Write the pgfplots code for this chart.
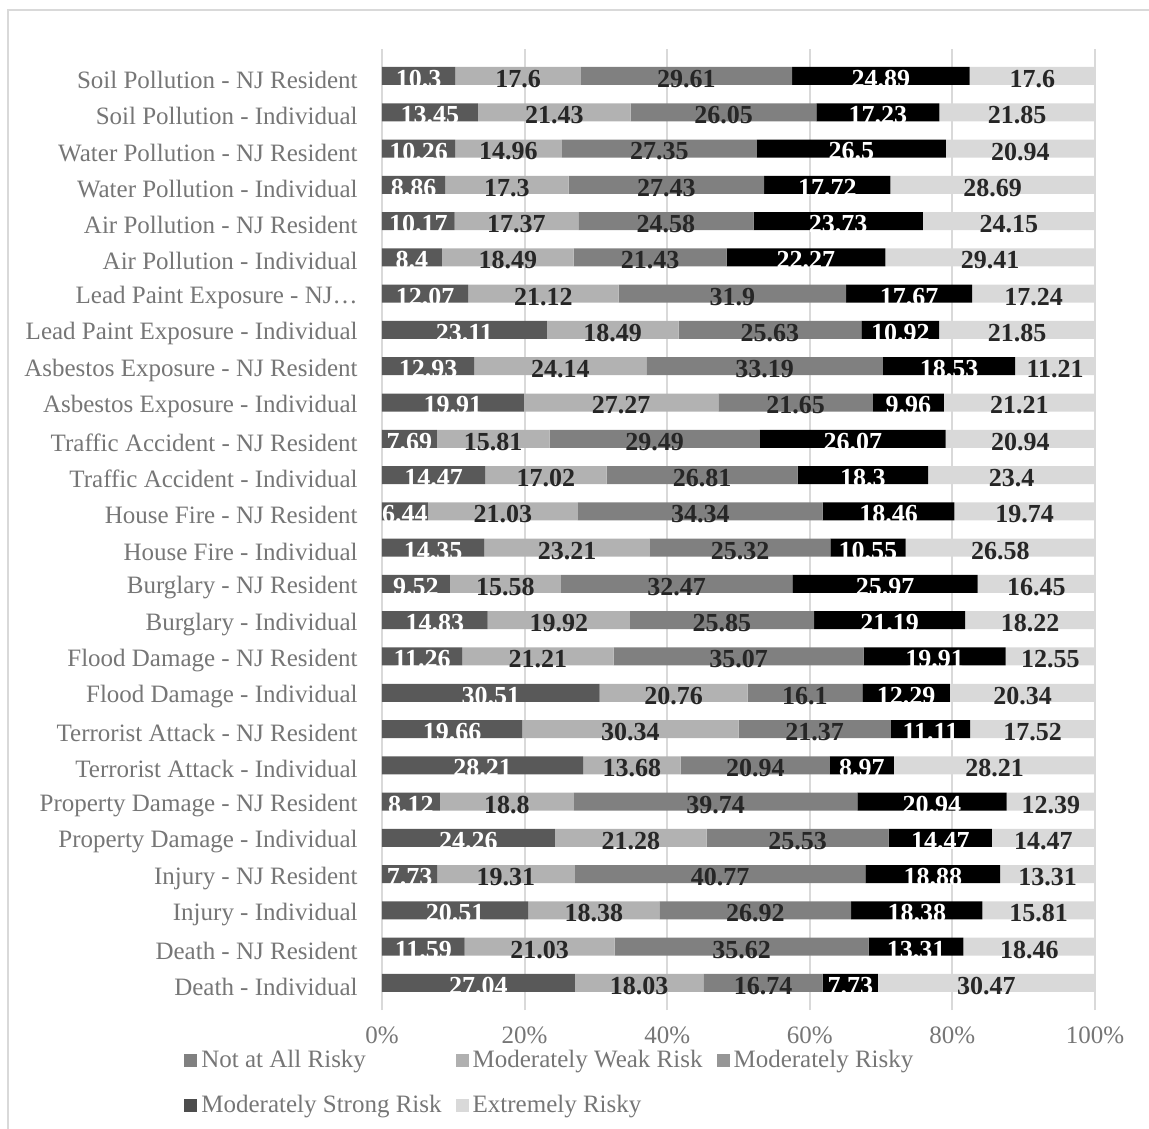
\documentclass[border=0pt]{standalone}
\usepackage{fontspec}
\setmainfont{Liberation Serif}
\usepackage{pgfplots}
\pgfplotsset{compat=1.18}
\usepackage{pgfplotstable}

\definecolor{cA}{HTML}{595959}
\definecolor{cB}{HTML}{B2B2B2}
\definecolor{cC}{HTML}{808080}
\definecolor{cD}{HTML}{000000}
\definecolor{cE}{HTML}{D9D9D9}
\definecolor{lA}{HTML}{808080}
\definecolor{lB}{HTML}{B0B0B0}
\definecolor{lC}{HTML}{969696}
\definecolor{lD}{HTML}{4D4D4D}
\definecolor{lE}{HTML}{D9D9D9}
\definecolor{txtgray}{HTML}{767676}
\definecolor{lbl}{HTML}{262626}
\definecolor{gridc}{HTML}{D9D9D9}

\pgfplotstableread{
y a b c d e
25 10.3 17.6 29.61 24.89 17.6
24 13.45 21.43 26.05 17.23 21.85
23 10.26 14.96 27.35 26.5 20.94
22 8.86 17.3 27.43 17.72 28.69
21 10.17 17.37 24.58 23.73 24.15
20 8.4 18.49 21.43 22.27 29.41
19 12.07 21.12 31.9 17.67 17.24
18 23.11 18.49 25.63 10.92 21.85
17 12.93 24.14 33.19 18.53 11.21
16 19.91 27.27 21.65 9.96 21.21
15 7.69 15.81 29.49 26.07 20.94
14 14.47 17.02 26.81 18.3 23.4
13 6.44 21.03 34.34 18.46 19.74
12 14.35 23.21 25.32 10.55 26.58
11 9.52 15.58 32.47 25.97 16.45
10 14.83 19.92 25.85 21.19 18.22
9 11.26 21.21 35.07 19.91 12.55
8 30.51 20.76 16.1 12.29 20.34
7 19.66 30.34 21.37 11.11 17.52
6 28.21 13.68 20.94 8.97 28.21
5 8.12 18.8 39.74 20.94 12.39
4 24.26 21.28 25.53 14.47 14.47
3 7.73 19.31 40.77 18.88 13.31
2 20.51 18.38 26.92 18.38 15.81
1 11.59 21.03 35.62 13.31 18.46
0 27.04 18.03 16.74 7.73 30.47
}\data

\pgfplotsset{
  geom/.style={scale only axis, width=356.5pt, height=480.7pt,
    at={(0,0)}, anchor=south west,
    xmin=0, xmax=100, ymin=-0.75, ymax=25.75,
    /pgf/number format/assume math mode=true},
  lab/.style={draw=none, mark=none, point meta=explicit,
    nodes near coords={\fontsize{13}{13}\bfseries\selectfont\pgfmathprintnumber{\pgfplotspointmeta}},
    every node near coord/.append style={anchor=center, inner sep=0pt, yshift=-1.5pt, text=#1}},
}

\begin{document}
\begin{tikzpicture}
\begin{axis}[
  geom,
  xbar stacked, bar width=9pt,
  axis line style={draw=none}, tick style={draw=none},
  xtick={0,20,...,100}, xticklabel={\pgfmathprintnumber{\tick}\%},
  xmajorgrids, grid style={line width=1pt, color=gridc},
  ytick={0,...,25},
  yticklabels={Death - Individual, Death - NJ Resident, Injury - Individual, Injury - NJ Resident, Property Damage - Individual, Property Damage - NJ Resident, Terrorist Attack - Individual, Terrorist Attack - NJ Resident, Flood Damage - Individual, Flood Damage - NJ Resident, Burglary - Individual, Burglary - NJ Resident, House Fire - Individual, House Fire - NJ Resident, Traffic Accident - Individual, Traffic Accident - NJ Resident, Asbestos Exposure - Individual, Asbestos Exposure - NJ Resident, Lead Paint Exposure - Individual, Lead Paint Exposure - NJ…, Air Pollution - Individual, Air Pollution - NJ Resident, Water Pollution - Individual, Water Pollution - NJ Resident, Soil Pollution - Individual, Soil Pollution - NJ Resident},
  yticklabel style={font=\fontsize{12.5}{15}\selectfont, text=txtgray, inner sep=0pt, xshift=-12pt, yshift=-2pt},
  xticklabel style={font=\fontsize{12.5}{15}\selectfont, text=txtgray, inner sep=0pt, yshift=-8pt},
  legend columns=3,
  legend cell align=left,
  legend style={draw=none, fill=none, at={(0,0)}, anchor=north west, xshift=-99pt, yshift=-18pt,
    font=\fontsize{12.5}{15}\selectfont, text=txtgray, inner sep=0pt, row sep=8pt,
    /tikz/every even column/.append style={column sep=5pt}},
  clip=false,
]
\addplot[fill=cA, draw=none,
  legend image code/.code={\fill[lA] (0pt,-3.25pt) rectangle (6.5pt,3.25pt);}]
  table[x=a, y=y] {\data};
\addplot[fill=cB, draw=none,
  legend image code/.code={\fill[lB] (0pt,-3.25pt) rectangle (6.5pt,3.25pt);}]
  table[x=b, y=y] {\data};
\addplot[fill=cC, draw=none,
  legend image code/.code={\fill[lC] (0pt,-3.25pt) rectangle (6.5pt,3.25pt);}]
  table[x=c, y=y] {\data};
\addplot[fill=cD, draw=none,
  legend image code/.code={\fill[lD] (0pt,-3.25pt) rectangle (6.5pt,3.25pt);}]
  table[x=d, y=y] {\data};
\addplot[fill=cE, draw=none,
  legend image code/.code={\fill[lE] (0pt,-3.25pt) rectangle (6.5pt,3.25pt);}]
  table[x=e, y=y] {\data};
\legend{Not at All Risky, Moderately Weak Risk, Moderately Risky, Moderately Strong Risk, Extremely Risky}
\end{axis}
\begin{axis}[geom, hide axis, clip=false]
\addplot[lab=white] table[x expr=\thisrow{a}/2, y=y, meta=a] {\data};
\addplot[lab=lbl] table[x expr=\thisrow{a}+\thisrow{b}/2, y=y, meta=b] {\data};
\addplot[lab=lbl] table[x expr=\thisrow{a}+\thisrow{b}+\thisrow{c}/2, y=y, meta=c] {\data};
\addplot[lab=white] table[x expr=\thisrow{a}+\thisrow{b}+\thisrow{c}+\thisrow{d}/2, y=y, meta=d] {\data};
\addplot[lab=lbl] table[x expr=\thisrow{a}+\thisrow{b}+\thisrow{c}+\thisrow{d}+\thisrow{e}/2, y=y, meta=e] {\data};
\end{axis}
\draw[gridc, line width=1pt] (-187pt,-62pt) rectangle (388pt,500.1pt);
\pgfresetboundingbox
\path (-191pt,-58.9pt) rectangle (383.5pt,505.1pt);
\end{tikzpicture}
\end{document}
